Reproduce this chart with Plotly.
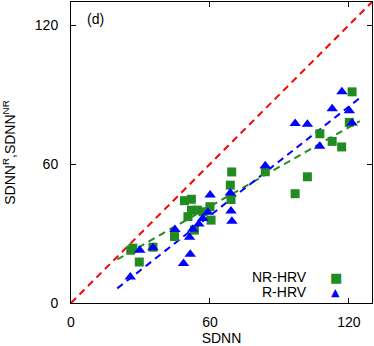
import plotly.graph_objects as go

# NR-HRV (green squares)
nr_sdnn = [25.8, 26.7, 29.5, 35.4, 44.7, 49.0, 52.0, 50.5, 52.0, 54.6, 57.0, 60.0, 60.5,
           53.3, 68.8, 69.1, 69.4, 83.9, 96.8, 102.1, 107.5, 112.8, 116.9, 120.2, 121.4]
nr_val = [22.8, 23.7, 17.7, 24.1, 28.7, 44.2, 44.8, 37.3, 40.1, 40.1, 39.4, 41.6, 35.8,
          31.5, 50.9, 44.7, 56.6, 56.7, 47.2, 54.5, 73.1, 69.8, 67.4, 78.0, 91.2]

# R-HRV (blue triangles)
r_sdnn = [25.6, 29.7, 35.4, 44.9, 48.6, 51.5, 51.2, 52.6, 55.2, 56.9, 59.1, 60.1,
          68.8, 69.1, 69.5, 83.9, 96.8, 102.1, 107.4, 112.8, 117.0, 120.2, 121.4]
r_val = [11.2, 22.8, 23.9, 31.7, 17.1, 21.1, 28.4, 31.9, 34.1, 36.5, 39.2, 46.6,
         47.5, 39.7, 35.3, 59.3, 77.5, 77.2, 67.7, 83.9, 91.2, 83.0, 77.7]

# fitted lines, end points
fit_x = [20, 124.7]
nr_fit = [18.8, 78.6]
r_fit = [6.3, 88.5]

diag = [0, 130]
ticks = [0, 60, 120]

font = dict(family='Liberation Sans, Arial, sans-serif', size=14, color='black')

fig = go.Figure()
fig.add_trace(go.Scatter(x=diag, y=diag, mode='lines',
                         line=dict(color='red', width=2, dash='7px,5px')))
fig.add_trace(go.Scatter(x=fit_x, y=nr_fit, mode='lines',
                         line=dict(color='#228b22', width=2, dash='7px,5px')))
fig.add_trace(go.Scatter(x=fit_x, y=r_fit, mode='lines',
                         line=dict(color='blue', width=2, dash='7px,5px')))
fig.add_trace(go.Scatter(x=nr_sdnn, y=nr_val, mode='markers', name='NR-HRV',
                         marker=dict(symbol='square', size=9, color='#228b22')))
fig.add_trace(go.Scatter(x=r_sdnn, y=r_val, mode='markers', name='R-HRV',
                         marker=dict(symbol='triangle-up', size=10, color='blue')))

axis = dict(range=[0, 130], tickvals=ticks, ticks='inside', ticklen=5, tickcolor='black',
            showline=True, linecolor='black', linewidth=1, mirror='ticks',
            showgrid=False, zeroline=False, tickfont=font, automargin=False)

fig.update_layout(
    width=374, height=346,
    margin=dict(l=71, r=2, t=2, b=43),
    plot_bgcolor='white', paper_bgcolor='white',
    showlegend=False, font=font,
    xaxis=dict(axis, title=dict(text='SDNN', font=font, standoff=6), ticklabelstandoff=6),
    yaxis=dict(axis, title=dict(text='SDNN<sup>R</sup>,SDNN<sup>NR</sup>', font=font, standoff=16),
               ticklabelstandoff=9),
)

fig.add_annotation(text='(d)', xref='paper', yref='paper', x=0.045, y=0.945,
                   xanchor='left', yanchor='middle', showarrow=False, font=font)
# gnuplot style key: label then sample
fig.add_annotation(text='NR-HRV', xref='paper', yref='paper', x=0.787, y=0.086,
                   xanchor='right', yanchor='middle', showarrow=False, font=font, borderpad=0)
fig.add_annotation(text='R-HRV', xref='paper', yref='paper', x=0.787, y=0.036,
                   xanchor='right', yanchor='middle', showarrow=False, font=font, borderpad=0)
fig.add_annotation(text='■', xref='paper', yref='paper', x=0.880, y=0.086,
                   xanchor='center', yanchor='middle', showarrow=False, borderpad=0,
                   font=dict(family='DejaVu Sans', size=13, color='#228b22'))
fig.add_annotation(text='▲', xref='paper', yref='paper', x=0.880, y=0.036,
                   xanchor='center', yanchor='middle', showarrow=False, borderpad=0,
                   font=dict(family='DejaVu Sans', size=11, color='blue'))

# page body has an 8px default margin; drop it so the figure sits at the corner
fig.write_html('out.html', config={'displayModeBar': False},
               post_script="document.body.style.margin='0';")
